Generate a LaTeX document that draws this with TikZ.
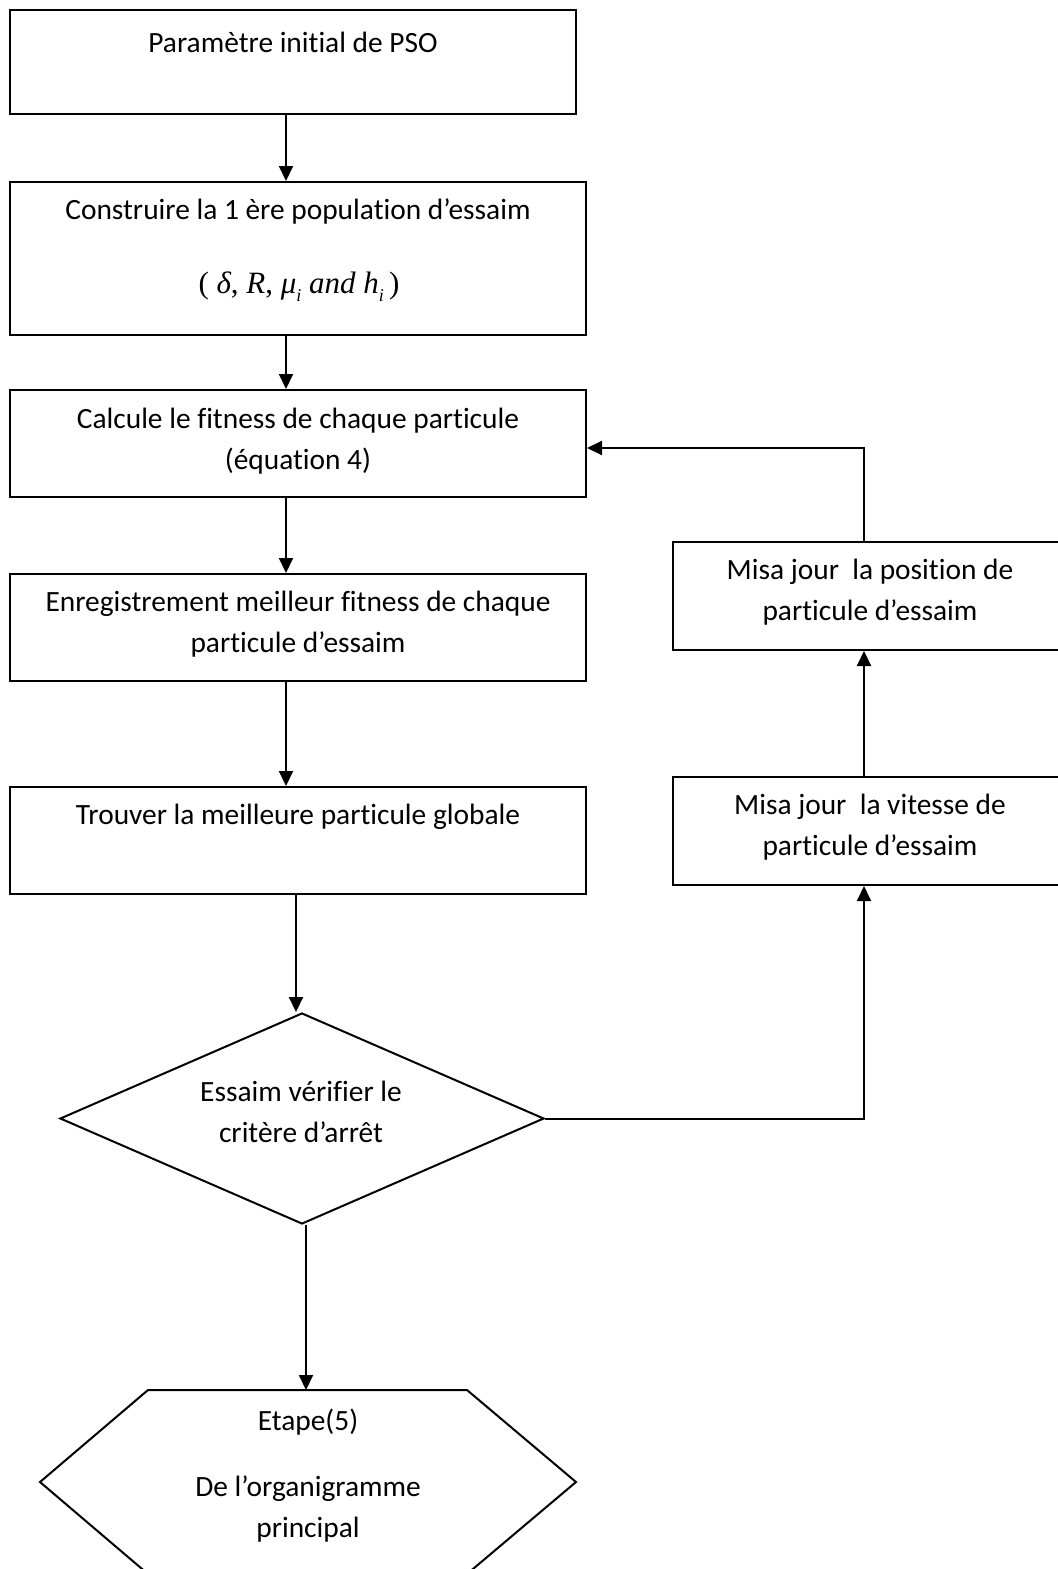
\documentclass[tikz,border=0pt]{standalone}
\usepackage{fontspec}
\setmainfont{Carlito}[Ligatures=NoCommon]
\newfontfamily\tnr{Liberation Serif}
\usetikzlibrary{shapes.geometric,arrows.meta}
\begin{document}
\begin{tikzpicture}[x=0.5pt,y=-0.5pt,
  ln/.style={line width=1pt},
  box/.style={draw,ln,inner sep=0pt,minimum width=#1},
  lbl/.style={align=center,inner sep=0pt,font=\fontsize{14.7pt}{20.5pt}\selectfont},
  arr/.style={ln,-{Triangle[length=7.5pt,width=7pt]}}]
\clip (0,0) rectangle (1058,1569);
\useasboundingbox (0,0) rectangle (1058,1569);
% boxes
\node[box=283pt,minimum height=52pt] (b1) at (293,62) {};
\node[box=288pt,minimum height=76.5pt] (b2) at (298,258.5) {};
\node[box=288pt,minimum height=53.5pt] (b3) at (298,443.5) {};
\node[box=288pt,minimum height=53.5pt] (b4) at (298,627.5) {};
\node[box=288pt,minimum height=53.5pt] (b5) at (298,840.5) {};
\node[box=196.5pt,minimum height=54pt] (b6) at (869.5,596) {};
\node[box=196.5pt,minimum height=54pt] (b7) at (869.5,831) {};
\node[draw,ln,shape=diamond,aspect=2.3,inner sep=0pt,minimum width=242pt,minimum height=105.5pt] (d) at (302,1118.5) {};
% hexagon
\coordinate (hexTop) at (306,1390);
\draw[ln] (148,1390) -- (467,1390) -- (576,1482) -- (467,1574) -- (148,1574) -- (40,1482) -- cycle;
% texts
\node[lbl] (t1) at (293,42) {Paramètre initial de PSO};
\node[lbl] (t2) at (298,212) {Construire la 1 ère population d’essaim};
\node[inner sep=0pt,font=\tnr\fontsize{15.5pt}{18pt}\selectfont] (t2m) at (299,287)
  {(\ \textit{δ}, \textit{R}, \textit{μ}\raisebox{-0.55ex}{\fontsize{9pt}{10pt}\selectfont\textit{i}} \textit{and h}\raisebox{-0.55ex}{\fontsize{9pt}{10pt}\selectfont\textit{i}}\,)};
\node[lbl] (t3) at (298,441) {Calcule le fitness de chaque particule\\(équation 4)};
\node[lbl] (t4) at (298,624) {Enregistrement meilleur fitness de chaque\\particule d’essaim};
\node[lbl] (t5) at (298,817) {Trouver la meilleure particule globale};
\node[lbl] (t6) at (870,592) {Misa jour\ \ la position de\\particule d’essaim};
\node[lbl] (t7) at (870,827.5) {Misa jour\ \ la vitesse de\\particule d’essaim};
\node[lbl] (td) at (301,1111.5) {Essaim vérifier le\\critère d’arrêt};
\node[lbl] (th1) at (308,1422) {Etape(5)};
\node[lbl] (th2) at (308,1508.5) {De l’organigramme\\principal};
% connectors
\draw[arr] ([xshift=-3.5pt]b1.south) -- ([xshift=-3.5pt]b1.south |- b2.north);
\draw[arr] ([xshift=-6pt]b2.south) -- ([xshift=-6pt]b2.south |- b3.north);
\draw[arr] ([xshift=-6pt]b3.south) -- ([xshift=-6pt]b3.south |- b4.north);
\draw[arr] ([xshift=-6pt]b4.south) -- ([xshift=-6pt]b4.south |- b5.north);
\draw[arr] ([xshift=-1pt]b5.south) -- ([xshift=-3pt]d.north);
\draw[arr] ([xshift=2pt]d.south) -- (hexTop);
\draw[arr] (d.east) -| ([xshift=-2.75pt]b7.south);
\draw[arr] ([xshift=-2.75pt]b7.north) -- ([xshift=-2.75pt]b6.south);
\draw[arr] ([xshift=-2.75pt]b6.north) |- ([yshift=-2.25pt]b3.east);
\end{tikzpicture}
\end{document}
